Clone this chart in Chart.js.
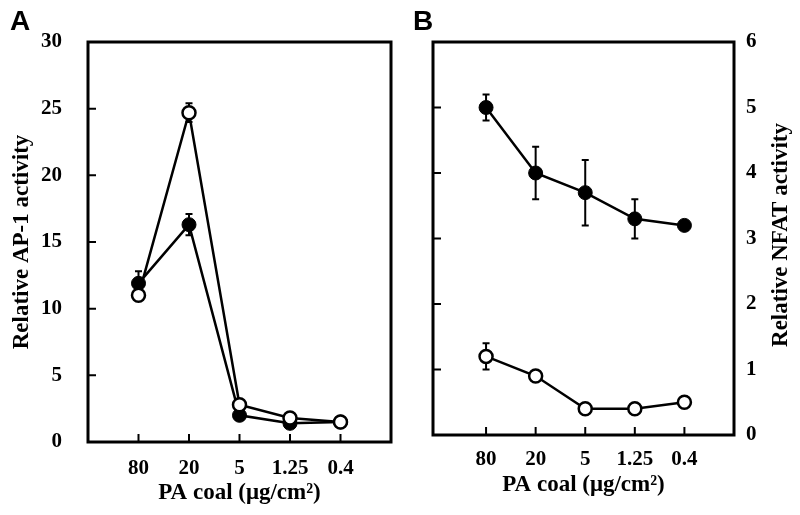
<!DOCTYPE html>
<html><head><meta charset="utf-8">
<script src="https://cdn.jsdelivr.net/npm/chart.js@4.4.1/dist/chart.umd.min.js"></script>
<style>
html,body{margin:0;padding:0;background:#fff;}
#wrap{position:relative;width:800px;height:515px;overflow:hidden;}
canvas{position:absolute;top:0;}
#pa{left:0}#pb{left:400px}
.lbl{position:absolute;top:7px;font:bold 28px "Liberation Sans",Arial,sans-serif;color:#000;line-height:1;}
</style></head>
<body>
<div id="wrap">
<canvas id="pa" width="400" height="515"></canvas>
<canvas id="pb" width="400" height="515"></canvas>
<div class="lbl" style="left:10px">A</div>
<div class="lbl" style="left:413px">B</div>
</div>
<script>
const categories = ['80', '20', '5', '1.25', '0.4'];
const apOpen = [11.0, 24.7, 2.8, 1.8, 1.5];
const apOpenErr = [0.3, 0.7, 0.1, 0.1, 0.1];
const apFilled = [11.9, 16.3, 2.0, 1.4, 1.5];
const apFilledErr = [0.9, 0.8, 0.1, 0.1, 0.1];
const nfatFilled = [5.0, 4.0, 3.7, 3.3, 3.2];
const nfatFilledErr = [0.2, 0.4, 0.5, 0.3, 0.05];
const nfatOpen = [1.2, 0.9, 0.4, 0.4, 0.5];
const nfatOpenErr = [0.2, 0.05, 0.03, 0.03, 0.03];
const apTicks = [0, 5, 10, 15, 20, 25, 30];
const nfatTicks = [0, 1, 2, 3, 4, 5, 6];

const SERIF = '"Liberation Serif","Times New Roman",serif';
const tickFont = {family: SERIF, size: 21, weight: 'bold'};
const titleFont = {family: SERIF, size: 23, weight: 'bold'};

function pts(arr) { return arr.map((v, i) => ({x: i, y: v})); }

function ds(values, errs, filled) {
  return {
    data: pts(values),
    errors: errs,
    borderColor: '#000',
    borderWidth: 2.5,
    backgroundColor: filled ? '#000' : '#fff',
    pointBackgroundColor: filled ? '#000' : '#fff',
    pointBorderColor: '#000',
    pointBorderWidth: filled ? 1 : 2.5,
    pointRadius: filled ? 7 : 6.5,
    pointStyle: 'circle',
    tension: 0,
    fill: false
  };
}

function framePlugin(yTicks, extra) {
  return {
    id: 'frame',
    beforeDatasetsDraw(chart) {
      const ctx = chart.ctx;
      const a = chart.chartArea;
      const xs = chart.scales.x, ys = chart.scales.y;
      ctx.save();
      ctx.strokeStyle = '#000';
      ctx.lineWidth = 3;
      ctx.strokeRect(a.left, a.top, a.right - a.left, a.bottom - a.top);
      ctx.lineWidth = 2;
      ctx.beginPath();
      categories.forEach((c, i) => {
        const px = xs.getPixelForValue(i);
        ctx.moveTo(px, a.bottom);
        ctx.lineTo(px, a.bottom - 8);
      });
      yTicks.slice(1, -1).forEach(v => {
        const py = ys.getPixelForValue(v);
        ctx.moveTo(a.left, py);
        ctx.lineTo(a.left + 8, py);
      });
      ctx.stroke();
      // error bars
      ctx.lineWidth = 2;
      chart.data.datasets.forEach(d => {
        d.data.forEach((p, i) => {
          const e = d.errors[i];
          const px = xs.getPixelForValue(p.x);
          const y1 = ys.getPixelForValue(p.y + e);
          const y2 = ys.getPixelForValue(p.y - e);
          ctx.beginPath();
          ctx.moveTo(px, y1); ctx.lineTo(px, y2);
          ctx.moveTo(px - 3.5, y1); ctx.lineTo(px + 3.5, y1);
          ctx.moveTo(px - 3.5, y2); ctx.lineTo(px + 3.5, y2);
          ctx.stroke();
        });
      });
      ctx.restore();
    },
    afterDraw(chart) { if (extra) extra(chart); }
  };
}

function xScale(pad, height, titlePadBottom, minX) {
  return {
    type: 'linear', min: minX, max: 5,
    afterBuildTicks: s => { s.ticks = categories.map((c, i) => ({value: i})); },
    ticks: {callback: v => categories[v], font: tickFont, color: '#000', padding: pad, maxRotation: 0, autoSkip: false},
    grid: {display: false}, border: {display: false},
    title: {display: true, text: 'PA coal (μg/cm²)', font: titleFont, color: '#000', padding: {top: 0, bottom: titlePadBottom}},
    afterFit: s => { s.height = height; }
  };
}

const common = {
  responsive: false, animation: false, devicePixelRatio: 1,
  plugins: {legend: {display: false}, tooltip: {enabled: false}}
};

new Chart(document.getElementById('pa'), {
  type: 'line',
  data: {datasets: [ds(apOpen, apOpenErr, false), ds(apFilled, apFilledErr, true)]},
  options: Object.assign({}, common, {
    layout: {padding: {top: 42, right: 9, left: 0, bottom: 0}},
    scales: {
      x: xScale(6, 73, 8, -1),
      y: {
        min: 0, max: 30,
        afterBuildTicks: s => { s.ticks = apTicks.map(v => ({value: v})); },
        ticks: {font: tickFont, color: '#000', padding: 18},
        grid: {display: false}, border: {display: false},
        title: {display: true, text: 'Relative AP-1 activity', font: titleFont, color: '#000', padding: {top: 8, bottom: 0}},
        afterFit: s => { s.width = 88; }
      }
    }
  }),
  plugins: [framePlugin(apTicks)]
});

new Chart(document.getElementById('pb'), {
  type: 'line',
  data: {datasets: [ds(nfatOpen, nfatOpenErr, false), ds(nfatFilled, nfatFilledErr, true)]},
  options: Object.assign({}, common, {
    layout: {padding: {top: 42, right: 0, left: 33, bottom: 0}},
    scales: {
      x: xScale(4, 80, 16, -1.07),
      y: {
        position: 'right', min: 0, max: 6,
        afterBuildTicks: s => { s.ticks = nfatTicks.map(v => ({value: v})); },
        ticks: {font: tickFont, color: '#000', padding: 4},
        grid: {display: false}, border: {display: false},
        title: {display: false},
        afterFit: s => { s.width = 66; }
      }
    }
  }),
  plugins: [framePlugin(nfatTicks, chart => {
    const ctx = chart.ctx;
    ctx.save();
    ctx.translate(381, 235);
    ctx.rotate(-Math.PI / 2);
    ctx.font = 'bold 23px ' + SERIF;
    ctx.fillStyle = '#000';
    ctx.textAlign = 'center';
    ctx.textBaseline = 'middle';
    ctx.fillText('Relative NFAT activity', 0, 0);
    ctx.restore();
  })]
});
</script>
</body></html>
